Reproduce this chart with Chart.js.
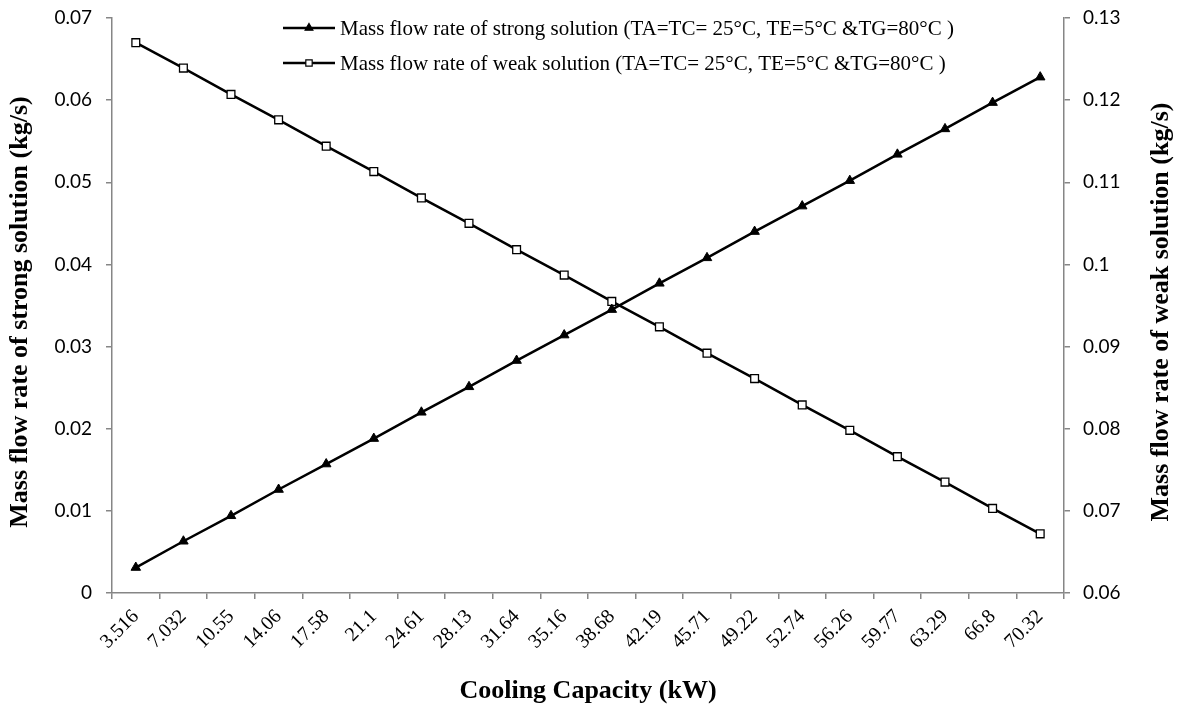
<!DOCTYPE html>
<html>
<head>
<meta charset="utf-8">
<script src="https://cdn.jsdelivr.net/npm/chart.js@4.4.1/dist/chart.umd.min.js"></script>
<style>
  html, body { margin: 0; padding: 0; background: #fff; }
  #wrap { width: 1183px; height: 710px; position: relative; }
</style>
</head>
<body>
<div id="wrap"><canvas id="myChart"></canvas></div>
<script>
// Cooling capacity (kW) categories
const capacity = ['3.516','7.032','10.55','14.06','17.58','21.1','24.61','28.13','31.64','35.16',
  '38.68','42.19','45.71','49.22','52.74','56.26','59.77','63.29','66.8','70.32'];

// Mass flow rate of strong solution (left axis, kg/s)
const strongFlow = [0.0031, 0.0063, 0.0094, 0.0126, 0.0157, 0.0188, 0.0220, 0.0251, 0.0283, 0.0314,
  0.0345, 0.0377, 0.0408, 0.0440, 0.0471, 0.0502, 0.0534, 0.0565, 0.0597, 0.0628];

// Mass flow rate of weak solution (right axis, kg/s)
const weakFlow = [0.1270, 0.1239, 0.1207, 0.1176, 0.1144, 0.1113, 0.1081, 0.1050, 0.1018, 0.0987,
  0.0955, 0.0924, 0.0892, 0.0861, 0.0829, 0.0798, 0.0766, 0.0735, 0.0703, 0.0672];

const leftTicks = [0, 0.01, 0.02, 0.03, 0.04, 0.05, 0.06, 0.07];
const rightTicks = [0.06, 0.07, 0.08, 0.09, 0.1, 0.11, 0.12, 0.13];

const seriesLabels = [
  'Mass flow rate of strong solution (TA=TC= 25°C, TE=5°C &TG=80°C )',
  'Mass flow rate of weak solution (TA=TC= 25°C, TE=5°C &TG=80°C )'
];
const leftTitle = 'Mass flow rate of strong solution (kg/s)';
const rightTitle = 'Mass flow rate of weak solution (kg/s)';
const xTitle = 'Cooling Capacity (kW)';

const axisGray = '#868686';
const serif = '"Liberation Serif", "Times New Roman", serif';
const sans = 'Lato, "Open Sans", sans-serif';

// legend drawn inside the plot like the original
const insideLegend = {
  id: 'insideLegend',
  afterDraw(chart) {
    const ctx = chart.ctx;
    const x0 = 283, lineLen = 52, rows = [28, 63];
    ctx.save();
    chart.data.datasets.forEach((ds, i) => {
      const y = rows[i];
      ctx.strokeStyle = ds.borderColor;
      ctx.lineWidth = 2.5;
      ctx.beginPath();
      ctx.moveTo(x0, y);
      ctx.lineTo(x0 + lineLen, y);
      ctx.stroke();
      ctx.fillStyle = ds.pointBackgroundColor;
      ctx.strokeStyle = ds.pointBorderColor;
      ctx.lineWidth = 1.2;
      Chart.helpers.drawPoint(ctx, {
        pointStyle: ds.pointStyle,
        radius: ds.pointRadius - 1,
        borderWidth: 1.2
      }, x0 + lineLen / 2, y);
      ctx.fillStyle = '#000';
      ctx.font = '21px ' + serif;
      ctx.textBaseline = 'middle';
      ctx.textAlign = 'left';
      ctx.fillText(ds.label, x0 + lineLen + 5, y + 1);
    });
    ctx.restore();
  }
};

// vertical axis titles (both read bottom to top)
const yTitles = {
  id: 'yTitles',
  afterDraw(chart) {
    const ctx = chart.ctx;
    const cy = 312;
    ctx.save();
    ctx.fillStyle = '#000';
    ctx.font = 'bold 26px ' + serif;
    ctx.textAlign = 'center';
    ctx.textBaseline = 'middle';
    [[20, leftTitle], [1161, rightTitle]].forEach(([x, t]) => {
      ctx.save();
      ctx.translate(x, cy);
      ctx.rotate(-Math.PI / 2);
      ctx.fillText(t, 0, 0);
      ctx.restore();
    });
    ctx.restore();
  }
};

function fitY(w) {
  return scale => {
    scale.width = w;
    scale.paddingTop = 0;
    scale.paddingBottom = 0;
  };
}

new Chart(document.getElementById('myChart'), {
  type: 'line',
  data: {
    labels: capacity,
    datasets: [
      {
        label: seriesLabels[0],
        data: strongFlow,
        yAxisID: 'y',
        borderColor: '#000',
        borderWidth: 2.5,
        pointStyle: 'triangle',
        pointRadius: 5.5,
        pointBackgroundColor: '#000',
        pointBorderColor: '#000',
        pointBorderWidth: 1,
        tension: 0
      },
      {
        label: seriesLabels[1],
        data: weakFlow,
        yAxisID: 'y2',
        borderColor: '#000',
        borderWidth: 2.5,
        pointStyle: 'rect',
        pointRadius: 5.5,
        pointBackgroundColor: '#fff',
        pointBorderColor: '#000',
        pointBorderWidth: 1.3,
        tension: 0
      }
    ]
  },
  options: {
    responsive: true,
    maintainAspectRatio: false,
    animation: false,
    layout: { padding: { top: 18, left: 0, right: 0, bottom: 0 } },
    plugins: {
      legend: { display: false },
      tooltip: { enabled: false }
    },
    scales: {
      x: {
        offset: true,
        afterFit: scale => { scale.height = 117; },
        grid: { display: true, offset: true, drawOnChartArea: false, drawTicks: true, tickLength: 6, color: axisGray, lineWidth: 1.5 },
        border: { color: axisGray, width: 1.5 },
        ticks: { color: '#000', font: { family: serif, size: 20 }, minRotation: 45, maxRotation: 45, autoSkip: false, padding: 6 },
        title: { display: true, text: xTitle, color: '#000', font: { family: serif, size: 26, weight: 'bold' }, padding: { top: 0, bottom: 3 } }
      },
      y: {
        position: 'left',
        min: 0,
        max: 0.07,
        afterFit: fitY(112),
        afterBuildTicks: scale => { scale.ticks = leftTicks.map(v => ({ value: v })); },
        grid: { display: true, drawOnChartArea: false, drawTicks: true, tickLength: 6, color: axisGray, lineWidth: 1.5 },
        border: { color: axisGray, width: 1.5 },
        ticks: { color: '#000', font: { family: sans, size: 19 }, padding: 14, callback: v => String(+v.toFixed(2)) }
      },
      y2: {
        position: 'right',
        min: 0.06,
        max: 0.13,
        afterFit: fitY(119),
        afterBuildTicks: scale => { scale.ticks = rightTicks.map(v => ({ value: v })); },
        grid: { display: true, drawOnChartArea: false, drawTicks: true, tickLength: 6, color: axisGray, lineWidth: 1.5 },
        border: { color: axisGray, width: 1.5 },
        ticks: { color: '#000', font: { family: sans, size: 19 }, padding: 13, callback: v => String(+v.toFixed(2)) }
      }
    }
  },
  plugins: [insideLegend, yTitles]
});
</script>
</body>
</html>
